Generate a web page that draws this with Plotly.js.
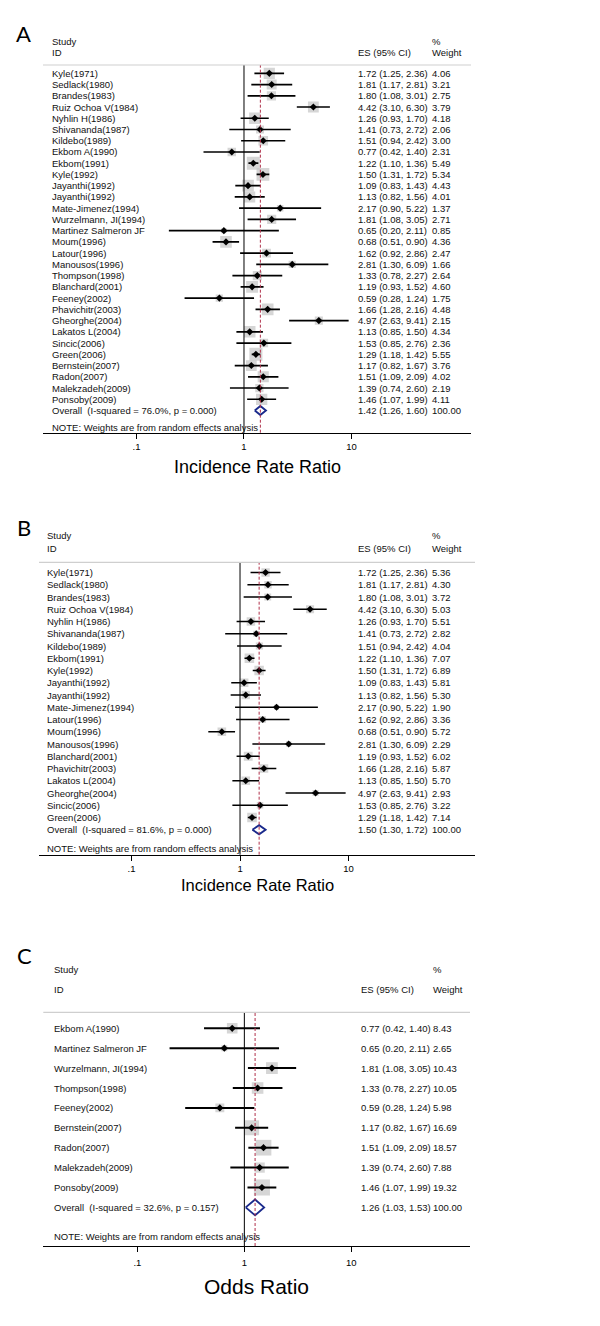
<!DOCTYPE html>
<html><head><meta charset="utf-8">
<script src="https://cdn.plot.ly/plotly-3.0.1.min.js"></script>
<style>html,body{margin:0;padding:0;background:#fff}#chart{width:600px;height:1326px}</style>
</head><body><div id="chart"></div>
<script>
// ---------------- Panel A data ----------------
const studiesA = ["Kyle(1971)","Sedlack(1980)","Brandes(1983)","Ruiz Ochoa V(1984)","Nyhlin H(1986)","Shivananda(1987)","Kildebo(1989)","Ekbom A(1990)","Ekbom(1991)","Kyle(1992)","Jayanthi(1992)","Jayanthi(1992)","Mate-Jimenez(1994)","Wurzelmann, JI(1994)","Martinez Salmeron JF","Moum(1996)","Latour(1996)","Manousos(1996)","Thompson(1998)","Blanchard(2001)","Feeney(2002)","Phavichitr(2003)","Gheorghe(2004)","Lakatos L(2004)","Sincic(2006)","Green(2006)","Bernstein(2007)","Radon(2007)","Malekzadeh(2009)","Ponsoby(2009)"];
const esA = [1.72,1.81,1.80,4.42,1.26,1.41,1.51,0.77,1.22,1.50,1.09,1.13,2.17,1.81,0.65,0.68,1.62,2.81,1.33,1.19,0.59,1.66,4.97,1.13,1.53,1.29,1.17,1.51,1.39,1.46];
const loA = [1.25,1.17,1.08,3.10,0.93,0.73,0.94,0.42,1.10,1.31,0.83,0.82,0.90,1.08,0.20,0.51,0.92,1.30,0.78,0.93,0.28,1.28,2.63,0.85,0.85,1.18,0.82,1.09,0.74,1.07];
const hiA = [2.36,2.81,3.01,6.30,1.70,2.72,2.42,1.40,1.36,1.72,1.43,1.56,5.22,3.05,2.11,0.90,2.86,6.09,2.27,1.52,1.24,2.16,9.41,1.50,2.76,1.42,1.67,2.09,2.60,1.99];
const wtA = [4.06,3.21,2.75,3.79,4.18,2.06,3.00,2.31,5.49,5.34,4.43,4.01,1.37,2.71,0.85,4.36,2.47,1.66,2.64,4.60,1.75,4.48,2.15,4.34,2.36,5.55,3.76,4.02,2.19,4.11];
const overallLabelA = "Overall\u00a0 (I-squared = 76.0%, p = 0.000)";
const overallA = [1.42, 1.26, 1.60, 100.00]; // es, lo, hi, weight

// ---------------- Panel B data ----------------
const studiesB = ["Kyle(1971)","Sedlack(1980)","Brandes(1983)","Ruiz Ochoa V(1984)","Nyhlin H(1986)","Shivananda(1987)","Kildebo(1989)","Ekbom(1991)","Kyle(1992)","Jayanthi(1992)","Jayanthi(1992)","Mate-Jimenez(1994)","Latour(1996)","Moum(1996)","Manousos(1996)","Blanchard(2001)","Phavichitr(2003)","Lakatos L(2004)","Gheorghe(2004)","Sincic(2006)","Green(2006)"];
const esB = [1.72,1.81,1.80,4.42,1.26,1.41,1.51,1.22,1.50,1.09,1.13,2.17,1.62,0.68,2.81,1.19,1.66,1.13,4.97,1.53,1.29];
const loB = [1.25,1.17,1.08,3.10,0.93,0.73,0.94,1.10,1.31,0.83,0.82,0.90,0.92,0.51,1.30,0.93,1.28,0.85,2.63,0.85,1.18];
const hiB = [2.36,2.81,3.01,6.30,1.70,2.72,2.42,1.36,1.72,1.43,1.56,5.22,2.86,0.90,6.09,1.52,2.16,1.50,9.41,2.76,1.42];
const wtB = [5.36,4.30,3.72,5.03,5.51,2.82,4.04,7.07,6.89,5.81,5.30,1.90,3.36,5.72,2.29,6.02,5.87,5.70,2.93,3.22,7.14];
const overallLabelB = "Overall\u00a0 (I-squared = 81.6%, p = 0.000)";
const overallB = [1.50, 1.30, 1.72, 100.00];

// ---------------- Panel C data ----------------
const studiesC = ["Ekbom A(1990)","Martinez Salmeron JF","Wurzelmann, JI(1994)","Thompson(1998)","Feeney(2002)","Bernstein(2007)","Radon(2007)","Malekzadeh(2009)","Ponsoby(2009)"];
const esC = [0.77,0.65,1.81,1.33,0.59,1.17,1.51,1.39,1.46];
const loC = [0.42,0.20,1.08,0.78,0.28,0.82,1.09,0.74,1.07];
const hiC = [1.40,2.11,3.05,2.27,1.24,1.67,2.09,2.60,1.99];
const wtC = [8.43,2.65,10.43,10.05,5.98,16.69,18.57,7.88,19.32];
const overallLabelC = "Overall\u00a0 (I-squared = 32.6%, p = 0.157)";
const overallC = [1.26, 1.03, 1.53, 100.00];

// ---------------- Shared labels ----------------
const tickVals = [0.1, 1, 10];
const tickText = [".1", "1", "10"];
const nullValue = 1;
const headerStudy = "Study", headerID = "ID", headerES = "ES (95% CI)", headerPct = "%", headerWeight = "Weight";
const noteText = "NOTE: Weights are from random effects analysis";
const panelLetters = ["A", "B", "C"];
const axisTitles = ["Incidence Rate Ratio", "Incidence Rate Ratio", "Odds Ratio"];

// ---------------- Layout / style ----------------
const W = 600, H = 1326;
const FONT = "Liberation Sans, Arial, Helvetica, sans-serif";
const BOX = "#c4c4c4", NAVY = "#1a2a8c", RED = "#b0304a";
const px = v => v / W;
const py = v => 1 - v / H;

const panels = [
  {studies: studiesA, es: esA, lo: loA, hi: hiA, wt: wtA, ovLabel: overallLabelA, ov: overallA,
   dom: [43, 471], xr: [-1.870, 2.112], yTop: 65, yBot: 432.7, row0: 73.3, rowH: 11.24,
   nameX: 50, esX: 356, wX: 430, studyY: 41.7, idY: 52.3, letterX: 14, letterY: 33,
   noteY: 427.3, titleY: 466.7, titleSize: 18, boxK: 5.55, dh: 0.40, fs: 9.5, lw: 1.7, tls: 0},
  {studies: studiesB, es: esB, lo: loB, hi: hiB, wt: wtB, ovLabel: overallLabelB, ov: overallB,
   dom: [39, 475], xr: [-1.853, 2.166], yTop: 562.3, yBot: 854.7, row0: 572.5, rowH: 12.25,
   nameX: 45, esX: 356, wX: 430, studyY: 535.7, idY: 548.3, letterX: 15, letterY: 528,
   noteY: 849, titleY: 885, titleSize: 16.5, boxK: 3.6, dh: 0.37, fs: 9.5, lw: 1.5, tls: 0},
  {studies: studiesC, es: esC, lo: loC, hi: hiC, wt: wtC, ovLabel: overallLabelC, ov: overallC,
   dom: [43.3, 470], xr: [-1.879, 2.109], yTop: 1012.3, yBot: 1246, row0: 1028.3, rowH: 19.9,
   nameX: 51.7, esX: 359.3, wX: 431, studyY: 969, idY: 989, letterX: 15, letterY: 955,
   noteY: 1236.7, titleY: 1286.7, titleSize: 21, boxK: 3.65, dh: 0.40, fs: 9.5, lw: 2, tls: 3}
];

const traces = [], annotations = [], shapes = [];
const layout = {
  width: W, height: H, margin: {l: 0, r: 0, t: 0, b: 0},
  paper_bgcolor: "#fff", plot_bgcolor: "rgba(0,0,0,0)", showlegend: false,
  font: {family: FONT, color: "#000"}
};

const fmt = v => v.toFixed(2);

panels.forEach((p, k) => {
  const sfx = k === 0 ? "" : String(k + 1);
  const xa = "x" + sfx, ya = "y" + sfx;
  const n = p.studies.length;
  const idx = p.studies.map((_, i) => i);
  const yMin = (p.yTop - p.row0) / p.rowH, yMax = (p.yBot - p.row0) / p.rowH;

  layout["xaxis" + sfx] = {
    type: "log", domain: [px(p.dom[0]), px(p.dom[1])], range: p.xr, anchor: ya,
    showline: true, linecolor: "#000", linewidth: 1, mirror: false,
    ticks: "outside", ticklen: 5, tickwidth: 1, tickcolor: "#000",
    tickmode: "array", tickvals: tickVals, ticktext: tickText, ticklabelstandoff: p.tls,
    tickfont: {size: 9.5, family: FONT, color: "#000"},
    showgrid: false, zeroline: false, fixedrange: true
  };
  layout["yaxis" + sfx] = {
    domain: [py(p.yBot), py(p.yTop)], range: [yMax, yMin], anchor: xa,
    showticklabels: false, showgrid: false, zeroline: false, showline: false, ticks: "", fixedrange: true
  };

  // weight boxes
  traces.push({type: "scatter", mode: "markers", x: p.es, y: idx, xaxis: xa, yaxis: ya, hoverinfo: "skip",
    marker: {symbol: "square", color: BOX, size: p.wt.map(w => p.boxK * Math.sqrt(w)), line: {width: 0}}});
  // CI lines
  const cx = [], cy = [];
  idx.forEach(i => { cx.push(p.lo[i], p.hi[i], null); cy.push(i, i, null); });
  traces.push({type: "scatter", mode: "lines", x: cx, y: cy, xaxis: xa, yaxis: ya, hoverinfo: "skip",
    line: {color: "#000", width: p.lw}});
  // point estimates
  traces.push({type: "scatter", mode: "markers", x: p.es, y: idx, xaxis: xa, yaxis: ya, hoverinfo: "skip",
    marker: {symbol: "diamond", color: "#000", size: 5.5}});
  // overall diamond
  const [oes, olo, ohi] = p.ov;
  traces.push({type: "scatter", mode: "lines", fill: "toself", fillcolor: "#fff", xaxis: xa, yaxis: ya, hoverinfo: "skip",
    x: [olo, oes, ohi, oes, olo], y: [n, n - p.dh, n, n + p.dh, n],
    line: {color: NAVY, width: 1.9}});

  // reference lines (no-effect line and overall estimate line)
  shapes.push({type: "line", xref: xa, yref: ya + " domain", x0: nullValue, x1: nullValue, y0: 0, y1: 1,
    line: {color: "#000", width: 1}});
  shapes.push({type: "line", xref: xa, yref: ya + " domain", x0: oes, x1: oes, y0: 0, y1: 1,
    line: {color: RED, width: 1, dash: "3px,2px"}});
  // header rule
  shapes.push({type: "line", xref: xa + " domain", yref: ya + " domain", x0: 0, x1: 1, y0: 1, y1: 1,
    line: {color: "#cfcfcf", width: 1.2}});

  const tf = {family: FONT, size: p.fs, color: "#111"};
  const ann = (x, y, text, yref, extra) => annotations.push(Object.assign({
    xref: "paper", yref: yref, x: x, y: y, text: text, showarrow: false,
    xanchor: "left", yanchor: "middle", font: tf
  }, extra || {}));

  // rows
  p.studies.forEach((s, i) => {
    ann(px(p.nameX), i, s, ya);
    ann(px(p.esX), i, fmt(p.es[i]) + " (" + fmt(p.lo[i]) + ", " + fmt(p.hi[i]) + ")", ya);
    ann(px(p.wX), i, fmt(p.wt[i]), ya);
  });
  ann(px(p.nameX), n, p.ovLabel, ya);
  ann(px(p.esX), n, fmt(oes) + " (" + fmt(olo) + ", " + fmt(ohi) + ")", ya);
  ann(px(p.wX), n, fmt(p.ov[3]), ya);

  // headers
  ann(px(p.nameX), py(p.studyY), headerStudy, "paper");
  ann(px(p.nameX), py(p.idY), headerID, "paper");
  ann(px(p.esX), py(p.idY), headerES, "paper");
  ann(px(p.wX), py(p.studyY), headerPct, "paper");
  ann(px(p.wX), py(p.idY), headerWeight, "paper");
  ann(px(p.nameX), py(p.noteY), noteText, "paper");

  // panel letter
  ann(px(p.letterX), py(p.letterY), panelLetters[k], "paper",
    {font: {family: "Lato, Open Sans, sans-serif", size: 22, color: "#000"}});
  // axis title
  ann((px(p.dom[0]) + px(p.dom[1])) / 2, py(p.titleY), axisTitles[k], "paper",
    {xanchor: "center", font: {family: FONT, size: p.titleSize, color: "#000"}});
});

layout.annotations = annotations;
layout.shapes = shapes;
Plotly.newPlot("chart", traces, layout, {staticPlot: true, displayModeBar: false});
</script>
</body></html>
